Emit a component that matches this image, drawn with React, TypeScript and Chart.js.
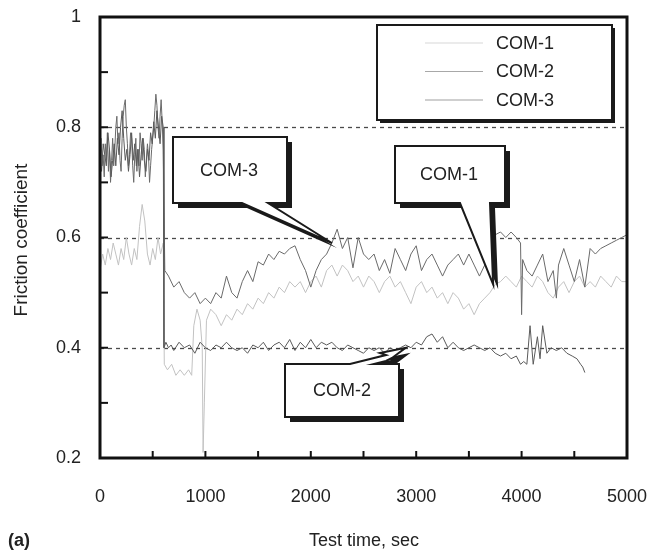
import React, { useEffect, useRef } from 'react';
import { Chart, registerables } from 'chart.js';

Chart.register(...registerables);

const FONT = '"Liberation Sans", Arial, Helvetica, sans-serif';

// ---- Data ----
const seriesNames = ['COM-1', 'COM-2', 'COM-3'];

const com1Time = [
  0, 25, 50, 75, 100, 125, 150, 175, 200, 225,
  250, 275, 300, 325, 350, 375, 400, 425, 450, 475,
  500, 525, 550, 575, 600, 610, 640, 680, 720, 760,
  800, 840, 870, 890, 920, 950, 970, 978, 990, 1010,
  1050, 1100, 1150, 1200, 1250, 1300, 1350, 1400, 1450, 1500,
  1550, 1600, 1650, 1700, 1750, 1800, 1850, 1900, 1950, 2000,
  2050, 2100, 2150, 2200, 2250, 2300, 2350, 2400, 2450, 2500,
  2550, 2600, 2650, 2700, 2750, 2800, 2850, 2900, 2950, 3000,
  3050, 3100, 3150, 3200, 3250, 3300, 3350, 3400, 3450, 3500,
  3550, 3600, 3650, 3700, 3750, 3800, 3850, 3900, 3950, 4000,
  4050, 4100, 4150, 4200, 4250, 4300, 4350, 4400, 4450, 4500,
  4550, 4600, 4650, 4700, 4750, 4800, 4850, 4900, 4950, 5000,
];
const com1Value = [
  0.54, 0.57, 0.55, 0.58, 0.56, 0.59, 0.57, 0.55, 0.58, 0.56,
  0.60, 0.57, 0.55, 0.58, 0.56, 0.62, 0.66, 0.63, 0.57, 0.55,
  0.58, 0.56, 0.60, 0.57, 0.59, 0.37, 0.36, 0.37, 0.35, 0.36,
  0.35, 0.36, 0.35, 0.44, 0.47, 0.45, 0.40, 0.21, 0.30, 0.45,
  0.47, 0.46, 0.44, 0.46, 0.45, 0.47, 0.46, 0.48, 0.47, 0.49,
  0.48, 0.50, 0.49, 0.51, 0.50, 0.52, 0.51, 0.52, 0.50, 0.52,
  0.53, 0.51, 0.54, 0.55, 0.53, 0.55, 0.54, 0.52, 0.53, 0.51,
  0.53, 0.52, 0.50, 0.52, 0.53, 0.51, 0.52, 0.50, 0.48, 0.51,
  0.52, 0.50, 0.51, 0.49, 0.50, 0.48, 0.50, 0.49, 0.47, 0.48,
  0.46, 0.48, 0.49, 0.50, 0.515, 0.52, 0.53, 0.52, 0.51, 0.53,
  0.52, 0.51, 0.53, 0.52, 0.50, 0.49, 0.51, 0.52, 0.50, 0.52,
  0.53, 0.51, 0.52, 0.51, 0.53, 0.52, 0.51, 0.53, 0.52, 0.52,
];

const com2Time = [
  0, 15, 30, 45, 60, 75, 90, 105, 120, 135,
  150, 165, 180, 195, 210, 225, 240, 255, 270, 285,
  300, 315, 330, 345, 360, 375, 390, 405, 420, 435,
  450, 465, 480, 495, 510, 525, 540, 555, 570, 585,
  600, 607, 625, 650, 675, 700,
  750, 800, 850, 900, 950, 1000, 1050, 1100, 1150, 1200,
  1250, 1300, 1350, 1400, 1450, 1500, 1550, 1600, 1650, 1700,
  1750, 1800, 1850, 1900, 1950, 2000, 2050, 2100, 2150, 2200,
  2250, 2300, 2350, 2400, 2450, 2500, 2550, 2600, 2650, 2700,
  2750, 2800, 2850, 2900, 2950, 3000, 3050, 3100, 3150, 3200,
  3250, 3300, 3350, 3400, 3450, 3500, 3550, 3600, 3650, 3700,
  3750, 3800, 3850, 3900, 3950, 3990, 4020, 4050, 4080, 4110,
  4150, 4175, 4200, 4240, 4280, 4330, 4380, 4430, 4480, 4525,
  4560, 4580, 4600,
];
const com2Value = [
  0.74, 0.72, 0.77, 0.75, 0.73, 0.79, 0.76, 0.71, 0.74, 0.77,
  0.73, 0.78, 0.75, 0.80, 0.83, 0.78, 0.74, 0.76, 0.72, 0.75,
  0.79, 0.74, 0.77, 0.73, 0.76, 0.71, 0.75, 0.78, 0.74, 0.72,
  0.76, 0.74, 0.79, 0.77, 0.81, 0.78, 0.83, 0.80, 0.77, 0.82,
  0.80, 0.40, 0.41, 0.40, 0.405, 0.395,
  0.41, 0.40, 0.405, 0.39, 0.41, 0.40, 0.395, 0.405, 0.40, 0.41,
  0.40, 0.395, 0.40, 0.39, 0.405, 0.40, 0.41, 0.395, 0.405, 0.41,
  0.40, 0.415, 0.395, 0.41, 0.40, 0.415, 0.40, 0.41, 0.405, 0.41,
  0.40, 0.395, 0.405, 0.40, 0.395, 0.39, 0.40, 0.395, 0.40, 0.39,
  0.40, 0.395, 0.40, 0.405, 0.40, 0.41, 0.405, 0.42, 0.425, 0.41,
  0.42, 0.40, 0.41, 0.40, 0.395, 0.40, 0.405, 0.40, 0.395, 0.40,
  0.39, 0.385, 0.39, 0.38, 0.385, 0.37, 0.375, 0.37, 0.44, 0.37,
  0.42, 0.38, 0.44, 0.39, 0.40, 0.395, 0.40, 0.39, 0.385, 0.38,
  0.37, 0.365, 0.355,
];

const com3Time = [
  0, 10, 20, 30, 40, 50, 60, 70, 80, 90,
  100, 110, 120, 130, 140, 150, 160, 170, 180, 190,
  200, 210, 220, 230, 240, 250, 260, 270, 280, 290,
  300, 310, 320, 330, 340, 350, 360, 370, 380, 390,
  400, 410, 420, 430, 440, 450, 460, 470, 480, 490,
  500, 510, 520, 530, 540, 550, 560, 570, 580, 590,
  600, 615, 650, 700, 750, 800, 850, 900, 950, 1000,
  1050, 1100, 1150, 1200, 1250, 1300, 1350, 1400, 1450, 1500,
  1550, 1600, 1650, 1700, 1750, 1800, 1850, 1900, 1950, 2000,
  2050, 2100, 2150, 2200, 2250, 2300, 2350, 2400, 2450, 2500,
  2550, 2600, 2650, 2700, 2750, 2800, 2850, 2900, 2950, 3000,
  3050, 3100, 3150, 3200, 3250, 3300, 3350, 3400, 3450, 3500,
  3550, 3600, 3650, 3700, 3750, 3800, 3850, 3900, 3950, 3990,
  4000, 4010, 4050, 4100, 4150, 4200, 4250, 4300, 4330, 4350,
  4400, 4450, 4500, 4550, 4600, 4650, 4700, 4750, 4800, 4850,
  4900, 4950, 5000,
];
const com3Value = [
  0.76, 0.78, 0.73, 0.75, 0.71, 0.77, 0.74, 0.79, 0.72, 0.76,
  0.70, 0.74, 0.78, 0.73, 0.76, 0.80, 0.82, 0.77, 0.79, 0.74,
  0.72, 0.78, 0.82, 0.84, 0.85, 0.80, 0.77, 0.73, 0.75, 0.79,
  0.78, 0.73, 0.70, 0.75, 0.78, 0.72, 0.76, 0.73, 0.79, 0.77,
  0.74, 0.78, 0.76, 0.71, 0.74, 0.77, 0.75, 0.70, 0.73, 0.76,
  0.78, 0.80, 0.83, 0.86, 0.84, 0.80, 0.78, 0.82, 0.85, 0.81,
  0.76, 0.54, 0.53, 0.51, 0.52, 0.50, 0.49, 0.50, 0.48, 0.49,
  0.48, 0.50, 0.49, 0.53, 0.50, 0.49, 0.52, 0.54, 0.52, 0.556,
  0.55, 0.57, 0.56, 0.575, 0.57, 0.58, 0.585, 0.56, 0.54, 0.51,
  0.54, 0.56, 0.57, 0.59, 0.615, 0.58, 0.60, 0.545, 0.60, 0.57,
  0.56, 0.57, 0.54, 0.56, 0.535, 0.58, 0.56, 0.54, 0.57, 0.585,
  0.54, 0.56, 0.57, 0.55, 0.53, 0.55, 0.56, 0.57, 0.55, 0.57,
  0.55, 0.53, 0.55, 0.57, 0.605, 0.61, 0.60, 0.61, 0.60, 0.59,
  0.46, 0.56, 0.54, 0.53, 0.55, 0.57, 0.52, 0.54, 0.49, 0.55,
  0.58, 0.55, 0.52, 0.56, 0.51, 0.58, 0.57, 0.58, 0.585, 0.59,
  0.595, 0.60, 0.605,
];

const xTicks = [0, 1000, 2000, 3000, 4000, 5000];
const yTicks = [0.2, 0.4, 0.6, 0.8, 1];
const dashedLevels = [0.4, 0.6, 0.8];

// callout tips in data coordinates: [time, value]
const calloutTips = {
  'COM-3': [2200, 0.59],
  'COM-1': [3730, 0.515],
  'COM-2': [2900, 0.4],
};

const lineColors = ['#c2c2c2', '#5a5a5a', '#6a6a6a'];
const legendColors = ['#d8d8d8', '#a8a8a8', '#a0a0a0'];

const toPoints = (t: number[], v: number[]) => t.map((x, i) => ({ x, y: v[i] }));

function drawShape(ctx: CanvasRenderingContext2D, pts: number[][], shadow: number) {
  const path = (dx: number, dy: number) => {
    ctx.beginPath();
    pts.forEach(([x, y], i) => (i === 0 ? ctx.moveTo(x + dx, y + dy) : ctx.lineTo(x + dx, y + dy)));
    ctx.closePath();
  };
  ctx.save();
  ctx.fillStyle = '#1a1a1a';
  path(shadow, shadow);
  ctx.fill();
  ctx.fillStyle = '#ffffff';
  path(0, 0);
  ctx.fill();
  ctx.strokeStyle = '#1a1a1a';
  ctx.lineWidth = 2;
  ctx.lineJoin = 'miter';
  ctx.stroke();
  ctx.restore();
}

const decorPlugin = {
  id: 'decor',
  beforeDatasetsDraw(chart: any) {
    const { ctx, chartArea: a, scales } = chart;
    ctx.save();
    ctx.strokeStyle = '#4a4a4a';
    ctx.lineWidth = 1.3;
    ctx.setLineDash([4, 4]);
    dashedLevels.forEach((v) => {
      const y = Math.round(scales.y.getPixelForValue(v)) + 0.5;
      ctx.beginPath();
      ctx.moveTo(a.left, y);
      ctx.lineTo(a.right, y);
      ctx.stroke();
    });
    ctx.restore();
  },
  afterDatasetsDraw(chart: any) {
    const { ctx, chartArea: a, scales } = chart;
    const xs = scales.x;
    const ys = scales.y;
    ctx.save();
    // inward ticks
    ctx.strokeStyle = '#111';
    ctx.lineWidth = 2;
    for (let t = 500; t < 5000; t += 500) {
      const x = xs.getPixelForValue(t);
      ctx.beginPath();
      ctx.moveTo(x, a.bottom);
      ctx.lineTo(x, a.bottom - 7);
      ctx.stroke();
    }
    for (let k = 3; k <= 9; k++) {
      const y = ys.getPixelForValue(k / 10);
      ctx.beginPath();
      ctx.moveTo(a.left, y);
      ctx.lineTo(a.left + 8, y);
      ctx.stroke();
    }
    // frame
    ctx.lineWidth = 3;
    ctx.strokeRect(a.left, a.top, a.right - a.left, a.bottom - a.top);
    ctx.restore();

    // legend box
    const lx1 = 377, ly1 = 25, lx2 = 612, ly2 = 120;
    drawShape(ctx, [[lx1, ly1], [lx2, ly1], [lx2, ly2], [lx1, ly2]], 3);
    ctx.save();
    ctx.font = `18px ${FONT}`;
    ctx.textBaseline = 'middle';
    ctx.textAlign = 'left';
    seriesNames.forEach((name, i) => {
      const y = 43 + i * 28.5;
      ctx.strokeStyle = legendColors[i];
      ctx.lineWidth = 1.2;
      ctx.beginPath();
      ctx.moveTo(425, y);
      ctx.lineTo(483, y);
      ctx.stroke();
      ctx.fillStyle = '#222';
      ctx.fillText(name, 496, y + 1);
    });
    ctx.restore();

    // callouts
    const tip = (name: string) => {
      const [t, v] = (calloutTips as any)[name];
      return [xs.getPixelForValue(t), ys.getPixelForValue(v)];
    };
    const t3 = tip('COM-3');
    drawShape(ctx, [[173, 137], [287, 137], [287, 203], [268, 203], t3, [242, 203], [173, 203]], 5);
    const t1 = tip('COM-1');
    drawShape(ctx, [[395, 146], [505, 146], [505, 203], [490, 203], t1, [460, 203], [395, 203]], 5);
    const t2 = tip('COM-2');
    drawShape(ctx, [[285, 364], [350, 364], [386, 355], [380, 353], t2, [392, 358], [386, 361], [374, 364], [399, 364], [399, 417], [285, 417]], 5);

    ctx.save();
    ctx.font = `18px ${FONT}`;
    ctx.fillStyle = '#222';
    ctx.textAlign = 'center';
    ctx.textBaseline = 'middle';
    ctx.fillText('COM-3', 229, 171);
    ctx.fillText('COM-1', 449, 175);
    ctx.fillText('COM-2', 342, 391);
    ctx.restore();

    // titles
    ctx.save();
    ctx.fillStyle = '#222';
    ctx.font = `18px ${FONT}`;
    ctx.textAlign = 'center';
    ctx.textBaseline = 'middle';
    ctx.fillText('Test time, sec', 364, 541);
    ctx.font = `bold 18px ${FONT}`;
    ctx.textAlign = 'left';
    ctx.fillText('(a)', 8, 541);
    ctx.translate(22, 240);
    ctx.rotate(-Math.PI / 2);
    ctx.font = `19px ${FONT}`;
    ctx.textAlign = 'center';
    ctx.fillText('Friction coefficient', 0, 0);
    ctx.restore();
  },
};

export default function App() {
  const ref = useRef<HTMLCanvasElement | null>(null);
  useEffect(() => {
    document.body.style.margin = '0';
    const canvas = ref.current;
    if (!canvas) return;
    const data = [toPoints(com1Time, com1Value), toPoints(com2Time, com2Value), toPoints(com3Time, com3Value)];
    const chart = new Chart(canvas, {
      type: 'line',
      data: {
        datasets: seriesNames.map((name, i) => ({
          label: name,
          data: data[i],
          borderColor: lineColors[i],
          borderWidth: 1,
          pointRadius: 0,
          tension: 0,
          fill: false,
          order: i === 0 ? 3 : i === 2 ? 2 : 1,
        })),
      },
      options: {
        responsive: false,
        animation: false,
        layout: { padding: { top: 17, right: 33, left: 0, bottom: 0 } },
        plugins: { legend: { display: false }, tooltip: { enabled: false } },
        scales: {
          x: {
            type: 'linear',
            min: 0,
            max: 5000,
            afterBuildTicks: (s: any) => {
              s.ticks = xTicks.map((v) => ({ value: v }));
            },
            afterFit: (s: any) => {
              s.height = 94;
              s.paddingLeft = 0;
              s.paddingRight = 0;
            },
            ticks: {
              padding: 28,
              color: '#222',
              font: { family: FONT, size: 18 },
              maxRotation: 0,
              autoSkip: false,
              callback: (v: any) => String(v),
            },
            grid: { display: false, drawTicks: false },
            border: { display: false },
          },
          y: {
            type: 'linear',
            min: 0.2,
            max: 1,
            afterBuildTicks: (s: any) => {
              s.ticks = yTicks.map((v) => ({ value: v }));
            },
            afterFit: (s: any) => {
              s.width = 100;
              s.paddingTop = 0;
              s.paddingBottom = 0;
            },
            ticks: {
              padding: 19,
              color: '#222',
              font: { family: FONT, size: 18 },
              callback: (v: any) => (Math.abs(Number(v) - 1) < 1e-9 ? '1' : Number(v).toFixed(1)),
            },
            grid: { display: false, drawTicks: false },
            border: { display: false },
          },
        },
      },
      plugins: [decorPlugin],
    });
    return () => chart.destroy();
  }, []);
  return (
    <div style={{ width: 660, height: 552 }}>
      <canvas ref={ref} width={660} height={552} style={{ display: 'block' }} />
    </div>
  );
}
